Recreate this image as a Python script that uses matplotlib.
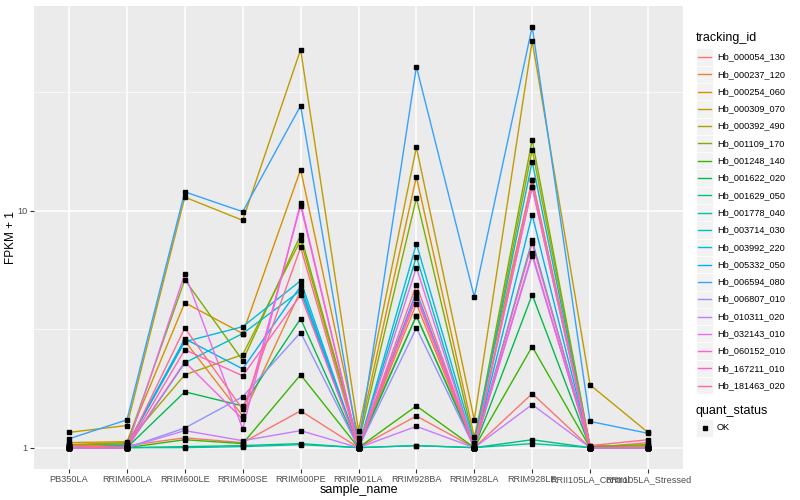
import numpy as np
import matplotlib
matplotlib.use('Agg')
import matplotlib.pyplot as plt
from matplotlib.lines import Line2D
from matplotlib.patches import Rectangle

plt.rcParams['font.family'] = ['Liberation Sans', 'DejaVu Sans']

samples = ['PB350LA', 'RRIM600LA', 'RRIM600LE', 'RRIM600SE', 'RRIM600PE', 'RRIM901LA',
           'RRIM928BA', 'RRIM928LA', 'RRIM928LE', 'RRII105LA_Control', 'RRII105LA_Stressed']

genes = ['Hb_000054_130', 'Hb_000237_120', 'Hb_000254_060', 'Hb_000309_070', 'Hb_000392_490',
         'Hb_001109_170', 'Hb_001248_140', 'Hb_001622_020', 'Hb_001629_050', 'Hb_001778_040',
         'Hb_003714_030', 'Hb_003992_220', 'Hb_005332_050', 'Hb_006594_080', 'Hb_006807_010',
         'Hb_010311_020', 'Hb_032143_010', 'Hb_060152_010', 'Hb_167211_010', 'Hb_181463_020']

# FPKM + 1, one list per gene, in sample order
hb_000054_130 = [1.03, 1.02, 1.10, 1.05, 1.43, 1.00, 1.36, 1.00, 1.69, 1.00, 1.05]
hb_000237_120 = [1.03, 1.03, 2.82, 1.36, 4.60, 1.00, 4.05, 1.00, 12.6, 1.00, 1.00]
hb_000254_060 = [1.05, 1.06, 4.09, 3.03, 14.9, 1.10, 13.9, 1.11, 13.5, 1.02, 1.02]
hb_000309_070 = [1.16, 1.24, 11.4, 9.10, 47.8, 1.18, 18.5, 1.31, 52.0, 1.84, 1.16]
hb_000392_490 = [1.03, 1.05, 2.03, 2.47, 7.50, 1.03, 3.60, 1.02, 18.1, 1.01, 1.02]
hb_001109_170 = [1.02, 1.04, 5.11, 2.33, 7.90, 1.05, 11.3, 1.05, 19.9, 1.01, 1.03]
hb_001248_140 = [1.00, 1.00, 1.08, 1.04, 2.03, 1.00, 1.50, 1.00, 2.67, 1.00, 1.00]
hb_001622_020 = [1.00, 1.00, 1.72, 1.50, 3.50, 1.00, 3.60, 1.00, 4.42, 1.00, 1.00]
hb_001629_050 = [1.00, 1.00, 1.01, 1.02, 1.04, 1.00, 1.02, 1.00, 1.08, 1.00, 1.00]
hb_001778_040 = [1.00, 1.00, 1.00, 1.01, 1.03, 1.00, 1.02, 1.00, 1.04, 1.00, 1.00]
hb_003714_030 = [1.00, 1.00, 2.28, 3.03, 4.60, 1.00, 6.40, 1.00, 7.50, 1.00, 1.00]
hb_003992_220 = [1.00, 1.02, 2.80, 3.24, 5.06, 1.00, 7.25, 1.05, 16.1, 1.00, 1.00]
hb_005332_050 = [1.00, 1.02, 2.88, 2.15, 4.80, 1.00, 4.55, 1.00, 9.60, 1.00, 1.00]
hb_006594_080 = [1.09, 1.31, 12.0, 9.90, 27.7, 1.02, 40.5, 4.33, 59.7, 1.29, 1.15]
hb_006807_010 = [1.00, 1.00, 1.21, 1.64, 3.06, 1.00, 3.20, 1.00, 6.45, 1.00, 1.00]
hb_010311_020 = [1.00, 1.00, 1.18, 1.07, 1.18, 1.00, 1.23, 1.00, 1.52, 1.00, 1.00]
hb_032143_010 = [1.00, 1.00, 5.42, 1.20, 10.8, 1.00, 5.75, 1.00, 12.6, 1.00, 1.00]
hb_060152_010 = [1.00, 1.00, 2.30, 1.32, 10.5, 1.00, 4.42, 1.00, 6.60, 1.00, 1.00]
hb_167211_010 = [1.00, 1.00, 2.59, 2.01, 4.40, 1.00, 4.29, 1.00, 7.30, 1.00, 1.00]
hb_181463_020 = [1.02, 1.00, 3.20, 1.45, 7.00, 1.00, 4.87, 1.00, 13.5, 1.02, 1.08]

values = [hb_000054_130, hb_000237_120, hb_000254_060, hb_000309_070, hb_000392_490,
          hb_001109_170, hb_001248_140, hb_001622_020, hb_001629_050, hb_001778_040,
          hb_003714_030, hb_003992_220, hb_005332_050, hb_006594_080, hb_006807_010,
          hb_010311_020, hb_032143_010, hb_060152_010, hb_167211_010, hb_181463_020]

# ggplot default hue palette for 20 levels
colors = ['#F8766D', '#EA8331', '#D89000', '#C09B00', '#A3A500', '#7CAE00', '#39B600',
          '#00BB4E', '#00BF7D', '#00C1A3', '#00BFC4', '#00BAE0', '#00B0F6', '#35A2FF',
          '#9590FF', '#C77CFF', '#E76BF3', '#FA62DB', '#FF62BC', '#FF6C91']

W, H = 800, 500
fig = plt.figure(figsize=(8, 5), dpi=100)
left, right, top, bot = 34.3, 682.7, 5.7, 468.7
ax = fig.add_axes([left / W, 1 - bot / H, (right - left) / W, (bot - top) / H])
ax.set_facecolor('#EBEBEB')

x = np.arange(len(samples))
for vals, c in zip(values, colors):
    ax.plot(x, vals, color=c, lw=1.0, zorder=3)
for vals in values:
    ax.plot(x, vals, ls='none', marker='s', ms=2.6, color='black', zorder=4)

ax.set_yscale('log')
allv = np.array(values)
lo, hi = np.log10(allv.min()), np.log10(allv.max())
pad = 0.05 * (hi - lo)
ax.set_ylim(10 ** (lo - pad), 10 ** (hi + pad))
ax.set_xlim(-0.6, len(samples) - 0.4)

ax.set_yticks([1, 10])
ax.set_yticklabels(['1', '10'])
ax.set_yticks([10 ** 0.5, 10 ** 1.5], minor=True)
ax.yaxis.set_minor_formatter(matplotlib.ticker.NullFormatter())
ax.set_xticks(x)
ax.set_xticklabels(samples)

ax.grid(True, which='major', color='white', lw=1.1, zorder=0)
ax.grid(True, which='minor', axis='y', color='white', lw=0.5, zorder=0)
ax.set_axisbelow(True)
for s in ax.spines.values():
    s.set_visible(False)
ax.tick_params(which='major', length=2.8, width=0.8, color='#333333', labelsize=6.6,
               labelcolor='#4D4D4D', pad=2)
ax.tick_params(which='minor', length=0)

ax.set_xlabel('sample_name', fontsize=9, color='black')
ax.xaxis.set_label_coords(0.5, -(482 - bot) / (bot - top) - 0.005)
ax.set_ylabel('FPKM + 1', fontsize=8.5, color='black')
ax.yaxis.set_label_coords(-(left - 17) / (right - left), 0.5)

# legend, drawn in pixel coords
def fx(px):
    return px / W

def fy(py):
    return 1 - py / H

fig.text(fx(696), fy(38), 'tracking_id', fontsize=9, va='center', ha='left')
key = 17.3
y0 = 57
for i, (g, c) in enumerate(zip(genes, colors)):
    yc = y0 + i * key
    fig.patches.append(Rectangle((fx(696), fy(yc + key / 2)), 17 / W, key / H,
                                 transform=fig.transFigure, facecolor='#F2F2F2',
                                 edgecolor='white', lw=0.6))
    fig.lines.append(Line2D([fx(698), fx(711)], [fy(yc), fy(yc)], color=c, lw=1.0,
                            transform=fig.transFigure))
    fig.text(fx(717), fy(yc), g, fontsize=6.6, va='center', ha='left')

fig.text(fx(696), fy(411), 'quant_status', fontsize=9, va='center', ha='left')
fig.patches.append(Rectangle((fx(696), fy(428 + key / 2)), 17 / W, key / H,
                             transform=fig.transFigure, facecolor='#F2F2F2',
                             edgecolor='white', lw=0.6))
fig.lines.append(Line2D([fx(704.5)], [fy(428)], marker='s', ms=2.6, color='black',
                        ls='none', transform=fig.transFigure))
fig.text(fx(717), fy(428), 'OK', fontsize=6.6, va='center', ha='left')

fig.savefig('out.png', dpi=100)
